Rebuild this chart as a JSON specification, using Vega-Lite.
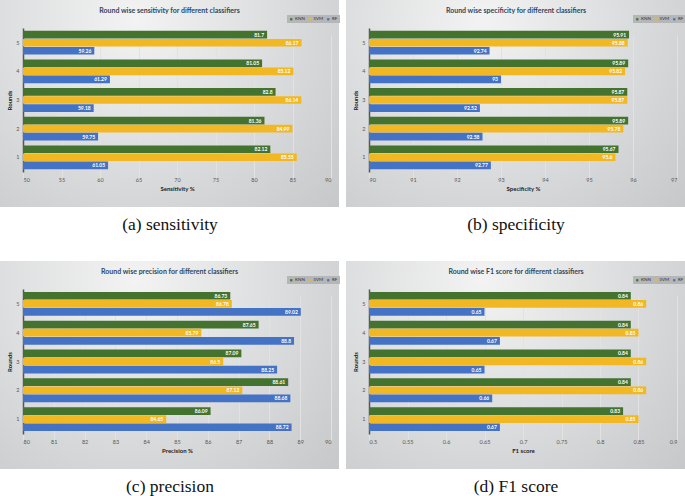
{
  "$schema": "https://vega.github.io/schema/vega-lite/v6.json",
  "padding": 0,
  "background": "white",
  "spacing": 27,
  "resolve": {"scale": {"x": "independent", "y": "independent", "color": "independent", "yOffset": "independent"}, "legend": {"color": "independent"}},
  "datasets": {
    "sens": [
      {"r": 1, "c": "KNN", "v": 82.12}, {"r": 1, "c": "SVM", "v": 85.55}, {"r": 1, "c": "RF", "v": 61.05},
      {"r": 2, "c": "KNN", "v": 81.36}, {"r": 2, "c": "SVM", "v": 84.99}, {"r": 2, "c": "RF", "v": 59.75},
      {"r": 3, "c": "KNN", "v": 82.8}, {"r": 3, "c": "SVM", "v": 86.14}, {"r": 3, "c": "RF", "v": 59.18},
      {"r": 4, "c": "KNN", "v": 81.05}, {"r": 4, "c": "SVM", "v": 85.12}, {"r": 4, "c": "RF", "v": 61.29},
      {"r": 5, "c": "KNN", "v": 81.7}, {"r": 5, "c": "SVM", "v": 86.17}, {"r": 5, "c": "RF", "v": 59.26}
    ],
    "spec": [
      {"r": 1, "c": "KNN", "v": 95.67}, {"r": 1, "c": "SVM", "v": 95.6}, {"r": 1, "c": "RF", "v": 92.77},
      {"r": 2, "c": "KNN", "v": 95.89}, {"r": 2, "c": "SVM", "v": 95.78}, {"r": 2, "c": "RF", "v": 92.58},
      {"r": 3, "c": "KNN", "v": 95.87}, {"r": 3, "c": "SVM", "v": 95.87}, {"r": 3, "c": "RF", "v": 92.52},
      {"r": 4, "c": "KNN", "v": 95.89}, {"r": 4, "c": "SVM", "v": 95.82}, {"r": 4, "c": "RF", "v": 93},
      {"r": 5, "c": "KNN", "v": 95.91}, {"r": 5, "c": "SVM", "v": 95.88}, {"r": 5, "c": "RF", "v": 92.74}
    ],
    "prec": [
      {"r": 1, "c": "KNN", "v": 86.09}, {"r": 1, "c": "SVM", "v": 84.65}, {"r": 1, "c": "RF", "v": 88.72},
      {"r": 2, "c": "KNN", "v": 88.61}, {"r": 2, "c": "SVM", "v": 87.12}, {"r": 2, "c": "RF", "v": 88.68},
      {"r": 3, "c": "KNN", "v": 87.09}, {"r": 3, "c": "SVM", "v": 86.5}, {"r": 3, "c": "RF", "v": 88.25},
      {"r": 4, "c": "KNN", "v": 87.65}, {"r": 4, "c": "SVM", "v": 85.79}, {"r": 4, "c": "RF", "v": 88.8},
      {"r": 5, "c": "KNN", "v": 86.73}, {"r": 5, "c": "SVM", "v": 86.78}, {"r": 5, "c": "RF", "v": 89.02}
    ],
    "f1": [
      {"r": 1, "c": "KNN", "v": 0.83}, {"r": 1, "c": "SVM", "v": 0.85}, {"r": 1, "c": "RF", "v": 0.67},
      {"r": 2, "c": "KNN", "v": 0.84}, {"r": 2, "c": "SVM", "v": 0.86}, {"r": 2, "c": "RF", "v": 0.66},
      {"r": 3, "c": "KNN", "v": 0.84}, {"r": 3, "c": "SVM", "v": 0.86}, {"r": 3, "c": "RF", "v": 0.65},
      {"r": 4, "c": "KNN", "v": 0.84}, {"r": 4, "c": "SVM", "v": 0.85}, {"r": 4, "c": "RF", "v": 0.67},
      {"r": 5, "c": "KNN", "v": 0.84}, {"r": 5, "c": "SVM", "v": 0.86}, {"r": 5, "c": "RF", "v": 0.65}
    ]
  },
  "vconcat": [
    {
      "hconcat": [
        {
          "title": {"text": "(a) sensitivity", "orient": "bottom", "anchor": "middle", "frame": "bounds", "offset": 9, "font": "Liberation Serif", "fontSize": 17.5, "fontWeight": "normal", "color": "#111"},
          "resolve": {"scale": {"x": "independent", "y": "independent", "color": "independent"}, "legend": {"color": "independent"}},
          "vconcat": [
            {
              "width": 339, "height": 207,
              "data": {"name": "sens"},
              "title": {"text": "Round wise sensitivity for different classifiers", "offset": -14},
              "encoding": {
                "y": {"field": "r", "type": "ordinal", "sort": "descending", "scale": {"range": [28, 172], "paddingInner": 0.17, "paddingOuter": 0.1}, "axis": {"title": "Rounds", "offset": -23}},
                "yOffset": {"field": "c", "sort": ["KNN", "SVM", "RF"], "scale": {"paddingInner": 0.05}},
                "x": {"field": "v", "type": "quantitative", "scale": {"domain": [50, 90], "range": [23, 331], "nice": false, "zero": false}, "axis": {"title": "Sensitivity %", "offset": -35, "values": [50, 55, 60, 65, 70, 75, 80, 85, 90]}}
              },
              "layer": [
                {"mark": {"type": "bar"}, "encoding": {"x2": {"datum": 50}, "color": {"field": "c", "sort": ["KNN", "SVM", "RF"], "scale": {"domain": ["KNN", "SVM", "RF"], "range": ["#44722f", "#f2b824", "#4472c4"]}}}},
                {"mark": {"type": "text", "align": "right", "dx": -3, "color": "white", "fontSize": 5, "fontWeight": "bold"}, "encoding": {"text": {"field": "v"}}}
              ]
            }
          ]
        },
        {
          "title": {"text": "(b) specificity", "orient": "bottom", "anchor": "middle", "frame": "bounds", "offset": 9, "font": "Liberation Serif", "fontSize": 17.5, "fontWeight": "normal", "color": "#111"},
          "resolve": {"scale": {"x": "independent", "y": "independent", "color": "independent"}, "legend": {"color": "independent"}},
          "vconcat": [
            {
              "width": 340, "height": 207,
              "data": {"name": "spec"},
              "title": {"text": "Round wise specificity for different classifiers", "offset": -14},
              "encoding": {
                "y": {"field": "r", "type": "ordinal", "sort": "descending", "scale": {"range": [28, 172], "paddingInner": 0.17, "paddingOuter": 0.1}, "axis": {"title": "Rounds", "offset": -23}},
                "yOffset": {"field": "c", "sort": ["KNN", "SVM", "RF"], "scale": {"paddingInner": 0.05}},
                "x": {"field": "v", "type": "quantitative", "scale": {"domain": [90, 97], "range": [23, 331], "nice": false, "zero": false}, "axis": {"title": "Specificity %", "offset": -35, "values": [90, 91, 92, 93, 94, 95, 96, 97]}}
              },
              "layer": [
                {"mark": {"type": "bar"}, "encoding": {"x2": {"datum": 90}, "color": {"field": "c", "sort": ["KNN", "SVM", "RF"], "scale": {"domain": ["KNN", "SVM", "RF"], "range": ["#44722f", "#f2b824", "#4472c4"]}}}},
                {"mark": {"type": "text", "align": "right", "dx": -3, "color": "white", "fontSize": 5, "fontWeight": "bold"}, "encoding": {"text": {"field": "v"}}}
              ]
            }
          ]
        }
      ],
      "spacing": 6,
      "resolve": {"scale": {"x": "independent", "y": "independent", "color": "independent"}, "legend": {"color": "independent"}}
    },
    {
      "hconcat": [
        {
          "title": {"text": "(c) precision", "orient": "bottom", "anchor": "middle", "frame": "bounds", "offset": 9, "font": "Liberation Serif", "fontSize": 17.5, "fontWeight": "normal", "color": "#111"},
          "resolve": {"scale": {"x": "independent", "y": "independent", "color": "independent"}, "legend": {"color": "independent"}},
          "vconcat": [
            {
              "width": 339, "height": 208,
              "data": {"name": "prec"},
              "title": {"text": "Round wise precision for different classifiers", "offset": -14},
              "encoding": {
                "y": {"field": "r", "type": "ordinal", "sort": "descending", "scale": {"range": [28, 173], "paddingInner": 0.17, "paddingOuter": 0.1}, "axis": {"title": "Rounds", "offset": -23}},
                "yOffset": {"field": "c", "sort": ["KNN", "SVM", "RF"], "scale": {"paddingInner": 0.05}},
                "x": {"field": "v", "type": "quantitative", "scale": {"domain": [80, 90], "range": [23, 331], "nice": false, "zero": false}, "axis": {"title": "Precision %", "offset": -35, "values": [80, 81, 82, 83, 84, 85, 86, 87, 88, 89, 90]}}
              },
              "layer": [
                {"mark": {"type": "bar"}, "encoding": {"x2": {"datum": 80}, "color": {"field": "c", "sort": ["KNN", "SVM", "RF"], "scale": {"domain": ["KNN", "SVM", "RF"], "range": ["#44722f", "#f2b824", "#4472c4"]}}}},
                {"mark": {"type": "text", "align": "right", "dx": -3, "color": "white", "fontSize": 5, "fontWeight": "bold"}, "encoding": {"text": {"field": "v"}}}
              ]
            }
          ]
        },
        {
          "title": {"text": "(d) F1 score", "orient": "bottom", "anchor": "middle", "frame": "bounds", "offset": 9, "font": "Liberation Serif", "fontSize": 17.5, "fontWeight": "normal", "color": "#111"},
          "resolve": {"scale": {"x": "independent", "y": "independent", "color": "independent"}, "legend": {"color": "independent"}},
          "vconcat": [
            {
              "width": 340, "height": 208,
              "data": {"name": "f1"},
              "title": {"text": "Round wise F1 score for different classifiers", "offset": -14},
              "encoding": {
                "y": {"field": "r", "type": "ordinal", "sort": "descending", "scale": {"range": [28, 173], "paddingInner": 0.17, "paddingOuter": 0.1}, "axis": {"title": "Rounds", "offset": -23}},
                "yOffset": {"field": "c", "sort": ["KNN", "SVM", "RF"], "scale": {"paddingInner": 0.05}},
                "x": {"field": "v", "type": "quantitative", "scale": {"domain": [0.5, 0.9], "range": [23, 331], "nice": false, "zero": false}, "axis": {"title": "F1 score", "offset": -35, "values": [0.5, 0.55, 0.6, 0.65, 0.7, 0.75, 0.8, 0.85, 0.9], "format": "~g"}}
              },
              "layer": [
                {"mark": {"type": "bar"}, "encoding": {"x2": {"datum": 0.5}, "color": {"field": "c", "sort": ["KNN", "SVM", "RF"], "scale": {"domain": ["KNN", "SVM", "RF"], "range": ["#44722f", "#f2b824", "#4472c4"]}}}},
                {"mark": {"type": "text", "align": "right", "dx": -3, "color": "white", "fontSize": 5, "fontWeight": "bold"}, "encoding": {"text": {"field": "v"}}}
              ]
            }
          ]
        }
      ],
      "spacing": 6,
      "resolve": {"scale": {"x": "independent", "y": "independent", "color": "independent"}, "legend": {"color": "independent"}}
    }
  ],
  "config": {
    "font": "Lato",
    "view": {"stroke": null, "fill": {"gradient": "radial", "x1": 0.4, "y1": 0.25, "r1": 0, "x2": 0.4, "y2": 0.25, "r2": 0.85, "stops": [{"offset": 0, "color": "#f3f3f3"}, {"offset": 1, "color": "#c4c6c8"}]}},
    "title": {"fontSize": 7, "fontWeight": "bold", "color": "#33465c", "anchor": "middle", "frame": "group"},
    "axis": {"labelFontSize": 5.5, "labelColor": "#595959", "titleFontSize": 6, "titleColor": "#222222", "titleFontWeight": "bold", "ticks": false, "gridColor": "#e2e2e2", "gridWidth": 1},
    "axisX": {"domain": false, "labelPadding": 5, "titlePadding": 3, "grid": true, "labelAngle": 0},
    "axisY": {"domain": true, "domainColor": "#555555", "domainWidth": 1.5, "grid": false, "labelPadding": 4, "titlePadding": 3, "labelAngle": 0},
    "legend": {"orient": "none", "legendX": 287, "legendY": 15, "direction": "horizontal", "gridAlign": "none", "fillColor": "#b4b6b8", "padding": 2, "symbolType": "square", "symbolSize": 5, "symbolStrokeWidth": 0, "labelFontSize": 4.5, "labelColor": "#333333", "title": null, "columnPadding": 2.5, "labelOffset": 1.5}
  }
}
